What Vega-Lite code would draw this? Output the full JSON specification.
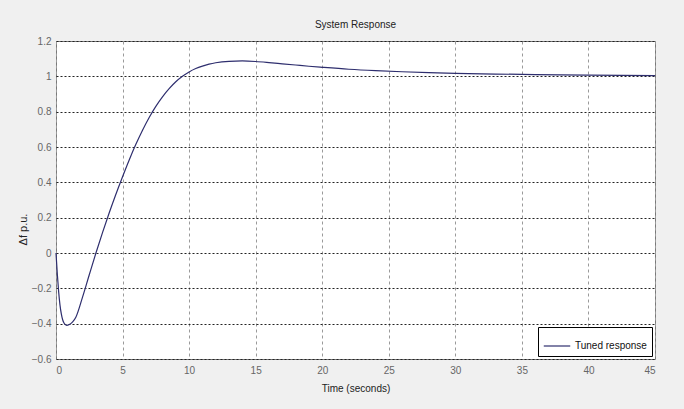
{
  "$schema": "https://vega.github.io/schema/vega-lite/v6.json",
  "width": 599,
  "height": 318,
  "autosize": {"type": "none"},
  "padding": {"left": 56, "top": 41, "right": 29, "bottom": 50},
  "background": "#f0f0f0",
  "title": {"text": "System Response", "fontSize": 10, "font": "Liberation Sans Narrow, Liberation Sans, Arial", "fontWeight": "normal", "color": "#222222", "offset": 6},
  "config": {
    "font": "Liberation Sans Narrow, Liberation Sans, Arial",
    "view": {"fill": "white", "stroke": "#7a7a7a", "strokeWidth": 1}
  },
  "data": {"values": [
    {"t": 0, "y": 0, "s": "Tuned response"},
    {"t": 0.1, "y": -0.12, "s": "Tuned response"},
    {"t": 0.2, "y": -0.22, "s": "Tuned response"},
    {"t": 0.3, "y": -0.295, "s": "Tuned response"},
    {"t": 0.4, "y": -0.345, "s": "Tuned response"},
    {"t": 0.5, "y": -0.378, "s": "Tuned response"},
    {"t": 0.6, "y": -0.396, "s": "Tuned response"},
    {"t": 0.8, "y": -0.41, "s": "Tuned response"},
    {"t": 1.0, "y": -0.405, "s": "Tuned response"},
    {"t": 1.25, "y": -0.39, "s": "Tuned response"},
    {"t": 1.5, "y": -0.362, "s": "Tuned response"},
    {"t": 2.0, "y": -0.248, "s": "Tuned response"},
    {"t": 2.5, "y": -0.123, "s": "Tuned response"},
    {"t": 3.0, "y": 0.0, "s": "Tuned response"},
    {"t": 3.5, "y": 0.117, "s": "Tuned response"},
    {"t": 4.0, "y": 0.228, "s": "Tuned response"},
    {"t": 4.5, "y": 0.333, "s": "Tuned response"},
    {"t": 5.0, "y": 0.432, "s": "Tuned response"},
    {"t": 5.5, "y": 0.527, "s": "Tuned response"},
    {"t": 6.0, "y": 0.615, "s": "Tuned response"},
    {"t": 6.5, "y": 0.695, "s": "Tuned response"},
    {"t": 7.0, "y": 0.767, "s": "Tuned response"},
    {"t": 7.5, "y": 0.83, "s": "Tuned response"},
    {"t": 8.0, "y": 0.884, "s": "Tuned response"},
    {"t": 8.5, "y": 0.93, "s": "Tuned response"},
    {"t": 9.0, "y": 0.969, "s": "Tuned response"},
    {"t": 9.5, "y": 1.0, "s": "Tuned response"},
    {"t": 10, "y": 1.025, "s": "Tuned response"},
    {"t": 10.5, "y": 1.044, "s": "Tuned response"},
    {"t": 11, "y": 1.058, "s": "Tuned response"},
    {"t": 11.5, "y": 1.069, "s": "Tuned response"},
    {"t": 12, "y": 1.077, "s": "Tuned response"},
    {"t": 13, "y": 1.085, "s": "Tuned response"},
    {"t": 14, "y": 1.087, "s": "Tuned response"},
    {"t": 15, "y": 1.084, "s": "Tuned response"},
    {"t": 16, "y": 1.078, "s": "Tuned response"},
    {"t": 17, "y": 1.071, "s": "Tuned response"},
    {"t": 18, "y": 1.064, "s": "Tuned response"},
    {"t": 19, "y": 1.057, "s": "Tuned response"},
    {"t": 20, "y": 1.051, "s": "Tuned response"},
    {"t": 22, "y": 1.04, "s": "Tuned response"},
    {"t": 24, "y": 1.032, "s": "Tuned response"},
    {"t": 26, "y": 1.026, "s": "Tuned response"},
    {"t": 28, "y": 1.021, "s": "Tuned response"},
    {"t": 30, "y": 1.017, "s": "Tuned response"},
    {"t": 33, "y": 1.013, "s": "Tuned response"},
    {"t": 36, "y": 1.01, "s": "Tuned response"},
    {"t": 40, "y": 1.007, "s": "Tuned response"},
    {"t": 45, "y": 1.004, "s": "Tuned response"}
  ]},
  "mark": {"type": "line", "strokeWidth": 1.2, "interpolate": "monotone"},
  "encoding": {
    "x": {
      "field": "t", "type": "quantitative",
      "scale": {"domain": [0, 45], "nice": false, "zero": false},
      "axis": {
        "title": "Time (seconds)", "titleFontSize": 10, "titleFontWeight": "normal", "titleColor": "#222222", "titlePadding": 8,
        "values": [0, 5, 10, 15, 20, 25, 30, 35, 40, 45],
        "labelFontSize": 10, "labelColor": "#666666", "labelPadding": 6,
        "ticks": false, "domain": false,
        "grid": true, "gridColor": "#9a9a9a", "gridDash": [3, 3], "gridWidth": 1
      }
    },
    "y": {
      "field": "y", "type": "quantitative",
      "scale": {"domain": [-0.6, 1.2], "nice": false, "zero": false},
      "axis": {
        "title": "Δf p.u.", "titleFontSize": 11, "titleFontWeight": "normal", "titleColor": "#222222",
        "titleX": -28, "titleY": 188, "titleAngle": -90,
        "values": [-0.6, -0.4, -0.2, 0, 0.2, 0.4, 0.6, 0.8, 1, 1.2],
        "format": "~g",
        "labelFontSize": 10, "labelColor": "#666666", "labelPadding": 5,
        "ticks": false, "domain": false,
        "grid": true, "gridColor": "#222222", "gridDash": [2, 2], "gridWidth": 1
      }
    },
    "color": {
      "field": "s", "type": "nominal",
      "scale": {"range": ["#2e2e6e"]},
      "legend": {
        "title": null, "orient": "bottom-right", "offset": 3,
        "fillColor": "white", "strokeColor": "#000000", "padding": 5,
        "symbolType": "stroke", "symbolSize": 700, "symbolStrokeWidth": 1.2,
        "labelFontSize": 10, "labelColor": "#111111"
      }
    }
  }
}
